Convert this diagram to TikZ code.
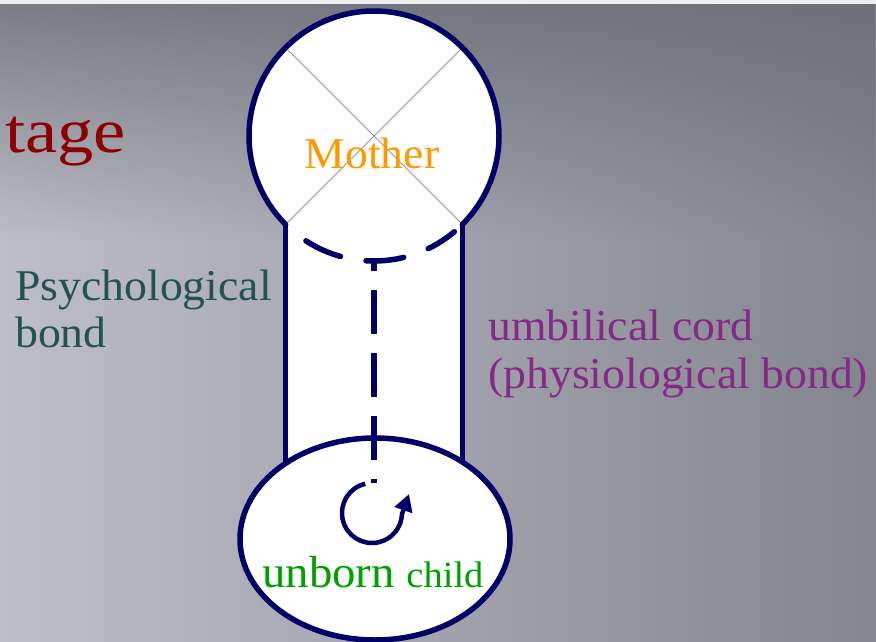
\documentclass[tikz,border=0pt]{standalone}
\usepackage{fontspec}
\setmainfont[FakeStretch=1.04]{Liberation Serif}
\newfontfamily\stagefont[FakeStretch=1.15]{Liberation Serif}
\usetikzlibrary{shapes.geometric,arrows.meta,fadings,calc}
\tikzfading[name=topdark, top color=transparent!20, bottom color=transparent!100]
\definecolor{navy}{RGB}{0,0,102}
\definecolor{motherc}{RGB}{255,153,0}
\definecolor{childc}{RGB}{0,160,0}
\definecolor{psychc}{RGB}{36,82,82}
\definecolor{umbc}{RGB}{134,40,134}
\definecolor{stagec}{RGB}{140,0,0}
\definecolor{bgl}{RGB}{190,190,200}
\definecolor{bgr}{RGB}{132,134,143}
\definecolor{bgd}{RGB}{104,107,116}
\definecolor{bgtop}{RGB}{238,238,241}
\definecolor{crossc}{RGB}{150,150,156}
\tikzset{
  outline/.style={draw=navy, line width=5.5pt},
  lbl/.style={inner sep=0pt, anchor=base west},
  bigtxt/.style={font=\fontsize{44}{47}\selectfont},
}
\begin{document}
\begin{tikzpicture}[x=1pt,y=1pt]
\useasboundingbox (0,0) rectangle (876,-642);
% background
\shade[left color=bgl, right color=bgr] (0,0) rectangle (876,-642);
\fill[bgd, path fading=topdark] (0,0) rectangle (876,-240);
\fill[bgtop] (0,0) rectangle (876,-4);

% mother circle
\node[circle, fill=white, minimum size=250pt, inner sep=0pt, outer sep=0pt] (mother) at (374,-136) {};
\coordinate (cordL) at (286,-480);
\coordinate (cordR) at (462,-480);
\fill[white] (mother.-135) rectangle (mother.-45 |- cordR);
\draw[crossc, line width=1pt] (mother.135) -- (mother.-45);
\draw[crossc, line width=1pt] (mother.45) -- (mother.-135);
\draw[outline, line cap=round] (mother.-45) arc[start angle=-45, end angle=225, radius=125pt];
\draw[outline] (mother.-135) -- (mother.-135 |- cordL);
\draw[outline] (mother.-45) -- (mother.-45 |- cordR);

% unborn child ellipse
\node[ellipse, outline, fill=white, minimum width=270pt, minimum height=202pt, inner sep=0pt, outer sep=0pt] (child) at (375,-539) {};
\coordinate (rot) at (372,-513);

% dashed links
\draw[navy, line width=5.5pt, line cap=round, dash pattern=on 38pt off 26pt]
  (mother.-123) arc[start angle=-123, end angle=-50, radius=125pt];
\draw[navy, line width=5.5pt, dash pattern=on 44pt off 19pt, dash phase=34pt]
  (mother.south) -- ($(mother.south |- rot)+(0,30)$);
\draw[navy, line width=4.5pt, -{Triangle[length=17pt,width=18pt]}]
  ($(rot)+(103:30)$) arc[start angle=103, end angle=358, radius=30pt] -- ++(7,20);

% texts
\node[inner sep=0pt, anchor=base, text=motherc, bigtxt] (mtext) at (372,-168) {Mother};
\node[inner sep=0pt, anchor=base east, text=stagec, font=\stagefont\fontsize{63}{63}\selectfont] (stage) at (126,-152) {tage};
\node[lbl, text=psychc, bigtxt] (psych1) at (15,-300) {Psychological};
\node[lbl, text=psychc, bigtxt] (psych2) at (15,-347) {bond};
\node[lbl, text=umbc, bigtxt] (umb1) at (488,-340) {umbilical cord};
\node[lbl, text=umbc, bigtxt] (umb2) at (488,-388) {(physiological bond)};
\node[lbl, text=childc] (ctext) at (262,-587) {\fontsize{45}{45}\selectfont unborn \fontsize{37}{37}\selectfont child};
\end{tikzpicture}
\end{document}
